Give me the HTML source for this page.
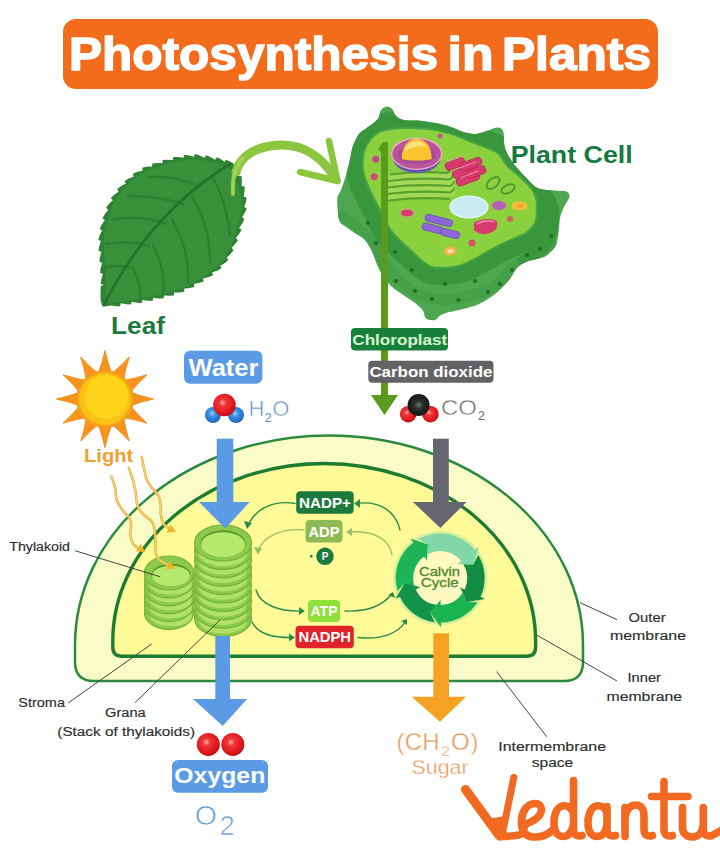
<!DOCTYPE html>
<html><head><meta charset="utf-8">
<style>
html,body{margin:0;padding:0;background:#fff;width:720px;height:857px;overflow:hidden}
svg{display:block}
text{font-family:"Liberation Sans",sans-serif}
</style></head>
<body>
<svg width="720" height="857" viewBox="0 0 720 857">
<rect width="720" height="857" fill="#fff"/>
<defs>
<radialGradient id="gRed" cx="0.42" cy="0.4" r="0.62"><stop offset="0" stop-color="#ffb0a8"/><stop offset="0.25" stop-color="#f0363a"/><stop offset="0.8" stop-color="#dc1418"/><stop offset="1" stop-color="#b80c10"/></radialGradient>
<radialGradient id="gBlue" cx="0.45" cy="0.4" r="0.62"><stop offset="0" stop-color="#8fd0ff"/><stop offset="0.35" stop-color="#3a90e0"/><stop offset="1" stop-color="#1f64b8"/></radialGradient>
<radialGradient id="gBlack" cx="0.5" cy="0.5" r="0.55"><stop offset="0" stop-color="#6a7a70"/><stop offset="0.35" stop-color="#2a2e2c"/><stop offset="1" stop-color="#141414"/></radialGradient>
</defs>


<!-- TITLE -->
<rect x="63" y="19" width="595" height="70" rx="13" fill="#f36c1c"/>
<g font-size="47" font-weight="bold" fill="#fff" stroke="#fff" stroke-width="1.5">
<text x="69" y="69.8" textLength="369" lengthAdjust="spacingAndGlyphs">Photosynthesis</text>
<text x="447.5" y="69.8" textLength="46" lengthAdjust="spacingAndGlyphs">in</text>
<text x="502" y="69.8" textLength="149" lengthAdjust="spacingAndGlyphs">Plants</text>
</g>

<!-- LEAF -->
<g id="leaf">
<path d="M103.0 306.5 L102.2 305.5 L100.9 301.5 L100.5 296.9 L100.5 296.0 L100.5 294.7 L100.6 290.5 L100.7 285.9 L103.7 285.0 L100.7 283.7 L101.3 279.5 L102.5 274.8 L103.0 273.9 L100.0 272.7 L100.6 268.5 L101.9 263.8 L102.4 262.9 L99.3 261.8 L99.9 257.5 L101.1 252.8 L101.6 251.9 L98.5 250.8 L99.2 246.6 L100.6 242.0 L101.2 241.2 L98.3 239.8 L99.5 235.7 L101.6 231.5 L102.4 230.8 L99.7 228.9 L101.5 225.1 L104.2 221.0 L105.0 220.4 L102.5 218.3 L104.6 214.5 L107.4 210.7 L108.3 210.1 L106.0 207.8 L108.4 204.4 L111.8 201.1 L112.8 200.6 L110.8 198.0 L113.8 195.0 L117.7 192.2 L118.7 191.9 L117.2 189.0 L120.5 186.4 L124.7 184.1 L125.8 183.9 L124.6 180.9 L128.2 178.7 L132.6 176.9 L133.7 176.8 L132.9 173.7 L136.8 172.0 L141.4 171.0 L142.5 171.1 L142.2 167.8 L146.3 166.8 L151.1 166.4 L152.1 166.7 L152.3 163.4 L156.5 162.9 L161.3 162.9 L162.3 163.3 L162.7 160.0 L167.0 159.7 L171.8 160.0 L172.8 160.3 L173.3 157.1 L177.6 157.0 L182.3 157.6 L183.3 158.0 L184.1 154.9 L188.3 155.2 L192.9 156.4 L193.7 157.0 L195.0 154.0 L199.1 155.2 L203.4 157.2 L204.2 157.9 L206.0 155.2 L209.9 156.8 L214.1 159.2 L214.9 160.0 L216.8 157.3 L220.6 159.1 L224.5 161.7 L226.1 159.7 L227.3 160.2 L231.1 162.0 L234.8 164.8 L235.4 165.4 L236.3 166.4 L238.6 169.9 L240.6 174.1 L238.1 176.0 L241.4 176.1 L241.9 180.3 L241.7 185.1 L241.3 186.1 L244.6 186.6 L244.6 190.9 L243.9 195.6 L243.5 196.6 L246.6 197.4 L246.1 201.6 L244.5 206.0 L243.9 206.8 L246.7 208.4 L245.1 212.3 L242.6 216.4 L241.8 217.1 L244.4 219.1 L242.5 223.0 L239.9 227.0 L239.0 227.7 L241.6 229.8 L239.4 233.5 L236.5 237.3 L235.7 237.9 L238.0 240.2 L235.5 243.6 L232.3 247.3 L231.4 247.8 L233.6 250.2 L231.0 253.6 L227.5 256.9 L226.6 257.3 L228.4 260.0 L225.3 262.8 L221.3 265.2 L220.2 265.3 L221.4 268.4 L217.7 270.5 L213.2 272.1 L212.2 272.1 L212.9 275.3 L208.9 277.0 L204.3 278.2 L203.2 278.2 L203.7 281.4 L199.7 282.8 L195.0 283.8 L194.0 283.7 L194.2 286.9 L190.1 288.0 L185.3 288.6 L184.3 288.4 L184.3 291.7 L180.1 292.4 L175.3 292.5 L174.3 292.2 L174.0 295.5 L169.7 295.8 L164.9 295.6 L163.9 295.2 L163.4 298.4 L159.1 298.5 L154.3 298.0 L153.3 297.6 L152.7 300.8 L148.4 300.8 L143.6 300.2 L142.6 299.7 L141.8 302.9 L137.6 302.7 L132.8 301.9 L131.9 301.4 L131.0 304.6 L126.7 304.2 L121.8 303.4 L120.8 303.0 L120.1 306.2 L115.8 306.2 L111.1 305.5Z" fill="#2e8432"/>
<path d="M103.0 306.5 L101.9 305.0 L101.2 303.1 L100.8 300.8 L100.5 298.2 L100.5 295.4 L100.5 292.4 L100.6 289.5 L100.7 286.7 L100.7 284.1 L100.6 281.7 L100.4 279.6 L100.3 277.6 L100.1 275.8 L100.0 274.0 L99.9 272.2 L99.8 270.4 L99.7 268.6 L99.6 266.8 L99.5 264.9 L99.4 262.8 L99.3 260.6 L99.1 258.3 L98.9 255.9 L98.7 253.4 L98.5 250.9 L98.4 248.4 L98.3 245.9 L98.2 243.5 L98.2 241.2 L98.3 239.0 L98.5 236.9 L98.7 234.9 L99.0 232.9 L99.3 231.0 L99.6 229.2 L100.1 227.3 L100.5 225.5 L101.0 223.7 L101.5 221.9 L102.0 220.0 L102.5 218.1 L103.1 216.2 L103.7 214.3 L104.3 212.4 L104.9 210.5 L105.6 208.7 L106.4 206.8 L107.2 205.0 L108.0 203.2 L108.9 201.4 L109.9 199.7 L110.9 197.9 L111.9 196.2 L113.0 194.5 L114.2 192.9 L115.4 191.2 L116.7 189.6 L118.0 188.0 L119.3 186.4 L120.7 184.9 L122.1 183.4 L123.6 181.8 L125.2 180.3 L126.7 178.8 L128.4 177.4 L130.0 175.9 L131.7 174.5 L133.5 173.2 L135.3 171.9 L137.2 170.7 L139.1 169.6 L141.0 168.5 L142.9 167.5 L144.9 166.5 L147.0 165.6 L149.1 164.7 L151.3 163.8 L153.6 163.0 L156.0 162.1 L158.5 161.3 L161.2 160.5 L164.2 159.6 L167.2 158.7 L170.4 157.8 L173.7 157.0 L177.0 156.3 L180.2 155.6 L183.4 155.0 L186.4 154.5 L189.2 154.2 L191.9 154.0 L194.4 154.0 L196.9 154.1 L199.4 154.3 L201.7 154.5 L204.0 154.9 L206.3 155.2 L208.5 155.7 L210.7 156.1 L212.8 156.5 L214.9 156.9 L217.0 157.3 L219.1 157.8 L221.2 158.3 L223.1 158.8 L225.0 159.4 L226.9 160.0 L228.6 160.7 L230.2 161.5 L231.7 162.4 L233.0 163.4 L234.2 164.3 L235.3 165.4 L236.3 166.5 L237.2 167.6 L238.0 168.9 L238.8 170.3 L239.6 171.9 L240.3 173.5 L241.1 175.4 L241.9 177.5 L242.7 179.8 L243.4 182.4 L244.2 185.1 L244.9 187.9 L245.5 190.7 L246.0 193.5 L246.5 196.3 L246.8 198.9 L247.0 201.4 L247.0 203.7 L247.0 205.9 L246.8 208.1 L246.4 210.2 L246.1 212.3 L245.6 214.3 L245.1 216.4 L244.6 218.4 L244.0 220.5 L243.5 222.6 L243.0 224.7 L242.4 226.9 L241.8 229.0 L241.1 231.1 L240.5 233.2 L239.8 235.4 L239.0 237.5 L238.2 239.6 L237.3 241.8 L236.4 243.9 L235.5 246.0 L234.5 248.2 L233.5 250.4 L232.5 252.6 L231.4 254.8 L230.2 257.0 L229.0 259.1 L227.6 261.2 L226.2 263.2 L224.6 265.1 L222.9 267.0 L221.0 268.8 L219.0 270.6 L216.9 272.3 L214.7 274.0 L212.4 275.6 L210.2 277.2 L207.9 278.8 L205.6 280.3 L203.3 281.7 L201.0 283.1 L198.8 284.4 L196.5 285.7 L194.1 287.0 L191.8 288.2 L189.4 289.3 L187.0 290.5 L184.6 291.5 L182.2 292.5 L179.7 293.5 L177.2 294.4 L174.7 295.3 L172.2 296.1 L169.6 296.8 L167.0 297.5 L164.4 298.2 L161.8 298.8 L159.1 299.4 L156.5 300.0 L153.8 300.6 L151.0 301.2 L148.1 301.7 L145.2 302.3 L142.3 302.8 L139.4 303.3 L136.4 303.8 L133.5 304.2 L130.7 304.6 L128.0 305.0 L125.4 305.3 L122.8 305.7 L120.2 306.2 L117.6 306.7 L115.1 307.3 L112.6 307.7 L110.2 308.1 L108.1 308.2 L106.1 308.0 L104.4 307.4Z" fill="#38913a" transform="translate(175 230) scale(0.93) translate(-175 -230)"/>
<g fill="none" stroke="#2d7f30" stroke-width="2.4" stroke-linecap="round">
<path d="M200 187 Q175 175 150 177"/>
<path d="M183 204 Q160 196 128 196"/>
<path d="M166 224 Q140 214 112 220"/>
<path d="M149 246 Q130 240 106 244"/>
<path d="M133 268 Q118 264 103 268"/>
<path d="M212 176 Q226 200 230 235"/>
<path d="M192 197 Q210 225 210 262"/>
<path d="M172 220 Q190 250 188 283"/>
<path d="M153 245 Q166 270 163 296"/>
<path d="M134 270 Q142 285 140 302"/>
</g>
<path d="M104 305 Q150 213 230 164" fill="none" stroke="#26722b" stroke-width="2.8" stroke-linecap="round"/>
</g>
<!-- leaf to cell arrow -->
<g fill="none" stroke-linecap="round">
<path d="M236 172 C240 156 256 146 280 145 C306 144 324 160 335 178" stroke="#8cc63f" stroke-width="9"/>
<path d="M233 194 C232 182 233 176 236 170" stroke="#8cc63f" stroke-width="4"/>
<path d="M233 194 C232 178 236 166 243 158" stroke="#9fd35c" stroke-width="3"/>
<path d="M337.5 181 L329 141" stroke="#8cc63f" stroke-width="6.5"/>
<path d="M337.5 181 L300 172" stroke="#8cc63f" stroke-width="6.5"/>
</g>

<!-- CELL -->
<g id="cell">
<defs><clipPath id="cellclip"><path d="M388.3 106.7 L389.0 106.9 L389.7 107.2 L390.5 107.6 L391.2 108.2 L391.8 108.8 L392.5 109.5 L393.1 110.4 L393.6 111.5 L394.0 112.7 L394.5 113.9 L395.2 115.0 L396.0 116.0 L397.0 116.8 L398.0 117.6 L399.2 118.4 L400.6 119.0 L402.2 119.5 L404.0 120.0 L406.1 120.3 L408.5 120.4 L411.1 120.4 L413.9 120.4 L416.9 120.5 L420.0 120.8 L423.4 121.2 L427.3 121.8 L431.3 122.4 L435.3 123.1 L438.9 123.8 L442.0 124.4 L444.5 125.0 L446.5 125.5 L448.2 126.1 L449.7 126.6 L451.3 127.2 L453.0 127.8 L454.8 128.5 L456.6 129.3 L458.5 130.1 L460.3 130.9 L462.1 131.6 L464.0 132.2 L465.9 132.7 L467.8 133.1 L469.8 133.5 L471.7 133.8 L473.7 133.9 L475.6 133.9 L477.5 133.7 L479.4 133.3 L481.3 132.8 L483.2 132.2 L485.0 131.6 L486.7 131.1 L488.4 130.5 L490.0 129.9 L491.5 129.2 L493.0 128.6 L494.3 128.1 L495.6 127.8 L496.7 127.6 L497.8 127.6 L498.7 127.7 L499.5 127.8 L500.3 128.1 L501.0 128.5 L501.6 128.9 L502.1 129.3 L502.6 129.8 L502.9 130.6 L503.3 131.6 L503.6 133.0 L503.8 134.9 L503.9 137.3 L503.9 140.0 L504.1 142.8 L504.4 145.6 L505.0 148.3 L505.9 150.8 L507.1 153.3 L508.4 155.8 L509.9 158.3 L511.5 160.8 L513.3 163.3 L515.3 165.9 L517.5 168.5 L519.8 171.1 L522.2 173.7 L524.5 176.1 L526.7 178.3 L528.7 180.4 L530.5 182.4 L532.3 184.2 L534.1 185.9 L536.1 187.3 L538.3 188.5 L540.9 189.3 L543.7 189.8 L546.7 190.1 L549.7 190.2 L552.5 190.3 L555.0 190.5 L557.2 190.7 L559.4 190.8 L561.3 190.8 L563.1 190.9 L564.7 191.1 L566.0 191.5 L567.1 192.1 L568.1 192.7 L568.8 193.5 L569.3 194.4 L569.5 195.5 L569.5 196.7 L569.1 198.1 L568.3 199.7 L567.2 201.5 L566.1 203.3 L564.9 205.2 L564.0 207.0 L563.2 208.8 L562.5 210.5 L561.8 212.3 L561.1 214.1 L560.5 216.1 L560.0 218.3 L559.6 220.8 L559.3 223.7 L559.1 226.7 L558.9 229.7 L558.6 232.5 L558.3 235.0 L557.9 237.2 L557.6 239.2 L557.2 241.1 L556.7 242.8 L556.2 244.4 L555.5 246.0 L554.6 247.5 L553.6 248.9 L552.5 250.2 L551.3 251.4 L550.1 252.5 L549.0 253.5 L548.1 254.4 L547.3 255.1 L546.5 255.7 L545.6 256.3 L544.4 256.9 L542.8 257.5 L540.7 258.1 L538.1 258.7 L535.2 259.3 L532.3 259.9 L529.6 260.6 L527.2 261.4 L525.2 262.3 L523.3 263.2 L521.7 264.1 L520.1 265.2 L518.5 266.5 L517.0 268.0 L515.5 269.8 L514.2 271.8 L513.0 274.0 L511.6 276.3 L510.2 278.6 L508.5 280.8 L506.6 283.0 L504.5 285.3 L502.2 287.6 L499.9 289.8 L497.5 292.0 L495.0 294.0 L492.5 295.9 L489.9 297.8 L487.2 299.6 L484.4 301.2 L481.5 302.8 L478.6 304.2 L475.5 305.5 L472.1 306.6 L468.6 307.6 L465.2 308.5 L462.0 309.3 L459.2 310.0 L456.8 310.6 L454.6 311.1 L452.6 311.4 L450.8 311.8 L449.1 312.1 L447.5 312.5 L446.0 313.0 L444.6 313.4 L443.3 313.9 L442.2 314.4 L441.1 314.9 L440.0 315.5 L439.1 316.2 L438.3 317.1 L437.6 318.0 L436.9 318.9 L436.0 319.6 L435.0 320.0 L433.7 320.2 L432.1 320.2 L430.4 320.1 L428.7 319.7 L427.2 319.2 L426.0 318.5 L425.2 317.5 L424.7 316.2 L424.3 314.7 L423.9 313.1 L423.4 311.5 L422.5 310.0 L421.2 308.5 L419.7 307.1 L418.0 305.6 L416.2 304.1 L414.3 302.6 L412.5 301.2 L410.7 300.0 L408.9 298.8 L407.0 297.6 L405.1 296.4 L403.2 295.1 L401.2 293.8 L399.2 292.3 L397.1 290.8 L394.9 289.2 L392.8 287.5 L390.7 285.7 L388.8 283.8 L386.9 281.6 L385.1 279.2 L383.4 276.6 L381.7 274.0 L380.2 271.4 L378.8 268.8 L377.5 266.1 L376.4 263.3 L375.5 260.5 L374.5 257.7 L373.6 255.0 L372.5 252.5 L371.4 250.1 L370.2 247.9 L369.0 245.7 L367.7 243.6 L366.4 241.7 L365.0 240.0 L363.5 238.5 L361.8 237.2 L360.0 236.0 L358.2 235.0 L356.6 234.0 L355.0 233.0 L353.6 232.0 L352.3 231.2 L351.1 230.4 L349.9 229.6 L348.7 228.7 L347.4 227.8 L346.0 226.8 L344.6 225.9 L343.1 225.0 L341.7 223.9 L340.5 222.6 L339.5 221.0 L338.8 219.0 L338.3 216.7 L338.0 214.2 L337.8 211.6 L337.6 209.2 L337.5 207.0 L337.3 205.1 L337.2 203.3 L337.2 201.6 L337.2 200.0 L337.3 198.4 L337.5 197.0 L337.9 195.7 L338.4 194.6 L339.0 193.6 L339.7 192.6 L340.3 191.4 L341.0 190.0 L341.6 188.3 L342.3 186.4 L343.0 184.4 L343.7 182.4 L344.4 180.3 L345.0 178.3 L345.6 176.4 L346.2 174.4 L346.7 172.5 L347.3 170.6 L347.8 168.6 L348.3 166.7 L348.8 164.7 L349.2 162.7 L349.6 160.8 L350.0 158.8 L350.4 156.9 L350.8 155.0 L351.2 153.2 L351.5 151.6 L351.8 150.0 L352.2 148.3 L352.7 146.7 L353.3 145.0 L354.0 143.2 L354.9 141.2 L355.9 139.2 L356.9 137.3 L357.9 135.5 L359.0 134.0 L360.1 132.8 L361.2 131.8 L362.4 130.9 L363.6 130.1 L364.8 129.4 L366.0 128.5 L367.2 127.6 L368.6 126.6 L369.9 125.7 L371.2 124.8 L372.4 123.9 L373.5 123.0 L374.5 122.2 L375.5 121.4 L376.3 120.6 L377.1 119.8 L377.9 118.9 L378.5 118.0 L379.0 116.9 L379.3 115.7 L379.6 114.4 L379.8 113.1 L380.1 112.0 L380.5 111.0 L381.0 110.2 L381.5 109.5 L382.1 108.9 L382.7 108.3 L383.4 107.9 L384.0 107.5 L384.7 107.2 L385.4 106.9 L386.1 106.7 L386.8 106.6 L387.6 106.6Z"/></clipPath></defs>
<path d="M388.3 106.7 L389.0 106.9 L389.7 107.2 L390.5 107.6 L391.2 108.2 L391.8 108.8 L392.5 109.5 L393.1 110.4 L393.6 111.5 L394.0 112.7 L394.5 113.9 L395.2 115.0 L396.0 116.0 L397.0 116.8 L398.0 117.6 L399.2 118.4 L400.6 119.0 L402.2 119.5 L404.0 120.0 L406.1 120.3 L408.5 120.4 L411.1 120.4 L413.9 120.4 L416.9 120.5 L420.0 120.8 L423.4 121.2 L427.3 121.8 L431.3 122.4 L435.3 123.1 L438.9 123.8 L442.0 124.4 L444.5 125.0 L446.5 125.5 L448.2 126.1 L449.7 126.6 L451.3 127.2 L453.0 127.8 L454.8 128.5 L456.6 129.3 L458.5 130.1 L460.3 130.9 L462.1 131.6 L464.0 132.2 L465.9 132.7 L467.8 133.1 L469.8 133.5 L471.7 133.8 L473.7 133.9 L475.6 133.9 L477.5 133.7 L479.4 133.3 L481.3 132.8 L483.2 132.2 L485.0 131.6 L486.7 131.1 L488.4 130.5 L490.0 129.9 L491.5 129.2 L493.0 128.6 L494.3 128.1 L495.6 127.8 L496.7 127.6 L497.8 127.6 L498.7 127.7 L499.5 127.8 L500.3 128.1 L501.0 128.5 L501.6 128.9 L502.1 129.3 L502.6 129.8 L502.9 130.6 L503.3 131.6 L503.6 133.0 L503.8 134.9 L503.9 137.3 L503.9 140.0 L504.1 142.8 L504.4 145.6 L505.0 148.3 L505.9 150.8 L507.1 153.3 L508.4 155.8 L509.9 158.3 L511.5 160.8 L513.3 163.3 L515.3 165.9 L517.5 168.5 L519.8 171.1 L522.2 173.7 L524.5 176.1 L526.7 178.3 L528.7 180.4 L530.5 182.4 L532.3 184.2 L534.1 185.9 L536.1 187.3 L538.3 188.5 L540.9 189.3 L543.7 189.8 L546.7 190.1 L549.7 190.2 L552.5 190.3 L555.0 190.5 L557.2 190.7 L559.4 190.8 L561.3 190.8 L563.1 190.9 L564.7 191.1 L566.0 191.5 L567.1 192.1 L568.1 192.7 L568.8 193.5 L569.3 194.4 L569.5 195.5 L569.5 196.7 L569.1 198.1 L568.3 199.7 L567.2 201.5 L566.1 203.3 L564.9 205.2 L564.0 207.0 L563.2 208.8 L562.5 210.5 L561.8 212.3 L561.1 214.1 L560.5 216.1 L560.0 218.3 L559.6 220.8 L559.3 223.7 L559.1 226.7 L558.9 229.7 L558.6 232.5 L558.3 235.0 L557.9 237.2 L557.6 239.2 L557.2 241.1 L556.7 242.8 L556.2 244.4 L555.5 246.0 L554.6 247.5 L553.6 248.9 L552.5 250.2 L551.3 251.4 L550.1 252.5 L549.0 253.5 L548.1 254.4 L547.3 255.1 L546.5 255.7 L545.6 256.3 L544.4 256.9 L542.8 257.5 L540.7 258.1 L538.1 258.7 L535.2 259.3 L532.3 259.9 L529.6 260.6 L527.2 261.4 L525.2 262.3 L523.3 263.2 L521.7 264.1 L520.1 265.2 L518.5 266.5 L517.0 268.0 L515.5 269.8 L514.2 271.8 L513.0 274.0 L511.6 276.3 L510.2 278.6 L508.5 280.8 L506.6 283.0 L504.5 285.3 L502.2 287.6 L499.9 289.8 L497.5 292.0 L495.0 294.0 L492.5 295.9 L489.9 297.8 L487.2 299.6 L484.4 301.2 L481.5 302.8 L478.6 304.2 L475.5 305.5 L472.1 306.6 L468.6 307.6 L465.2 308.5 L462.0 309.3 L459.2 310.0 L456.8 310.6 L454.6 311.1 L452.6 311.4 L450.8 311.8 L449.1 312.1 L447.5 312.5 L446.0 313.0 L444.6 313.4 L443.3 313.9 L442.2 314.4 L441.1 314.9 L440.0 315.5 L439.1 316.2 L438.3 317.1 L437.6 318.0 L436.9 318.9 L436.0 319.6 L435.0 320.0 L433.7 320.2 L432.1 320.2 L430.4 320.1 L428.7 319.7 L427.2 319.2 L426.0 318.5 L425.2 317.5 L424.7 316.2 L424.3 314.7 L423.9 313.1 L423.4 311.5 L422.5 310.0 L421.2 308.5 L419.7 307.1 L418.0 305.6 L416.2 304.1 L414.3 302.6 L412.5 301.2 L410.7 300.0 L408.9 298.8 L407.0 297.6 L405.1 296.4 L403.2 295.1 L401.2 293.8 L399.2 292.3 L397.1 290.8 L394.9 289.2 L392.8 287.5 L390.7 285.7 L388.8 283.8 L386.9 281.6 L385.1 279.2 L383.4 276.6 L381.7 274.0 L380.2 271.4 L378.8 268.8 L377.5 266.1 L376.4 263.3 L375.5 260.5 L374.5 257.7 L373.6 255.0 L372.5 252.5 L371.4 250.1 L370.2 247.9 L369.0 245.7 L367.7 243.6 L366.4 241.7 L365.0 240.0 L363.5 238.5 L361.8 237.2 L360.0 236.0 L358.2 235.0 L356.6 234.0 L355.0 233.0 L353.6 232.0 L352.3 231.2 L351.1 230.4 L349.9 229.6 L348.7 228.7 L347.4 227.8 L346.0 226.8 L344.6 225.9 L343.1 225.0 L341.7 223.9 L340.5 222.6 L339.5 221.0 L338.8 219.0 L338.3 216.7 L338.0 214.2 L337.8 211.6 L337.6 209.2 L337.5 207.0 L337.3 205.1 L337.2 203.3 L337.2 201.6 L337.2 200.0 L337.3 198.4 L337.5 197.0 L337.9 195.7 L338.4 194.6 L339.0 193.6 L339.7 192.6 L340.3 191.4 L341.0 190.0 L341.6 188.3 L342.3 186.4 L343.0 184.4 L343.7 182.4 L344.4 180.3 L345.0 178.3 L345.6 176.4 L346.2 174.4 L346.7 172.5 L347.3 170.6 L347.8 168.6 L348.3 166.7 L348.8 164.7 L349.2 162.7 L349.6 160.8 L350.0 158.8 L350.4 156.9 L350.8 155.0 L351.2 153.2 L351.5 151.6 L351.8 150.0 L352.2 148.3 L352.7 146.7 L353.3 145.0 L354.0 143.2 L354.9 141.2 L355.9 139.2 L356.9 137.3 L357.9 135.5 L359.0 134.0 L360.1 132.8 L361.2 131.8 L362.4 130.9 L363.6 130.1 L364.8 129.4 L366.0 128.5 L367.2 127.6 L368.6 126.6 L369.9 125.7 L371.2 124.8 L372.4 123.9 L373.5 123.0 L374.5 122.2 L375.5 121.4 L376.3 120.6 L377.1 119.8 L377.9 118.9 L378.5 118.0 L379.0 116.9 L379.3 115.7 L379.6 114.4 L379.8 113.1 L380.1 112.0 L380.5 111.0 L381.0 110.2 L381.5 109.5 L382.1 108.9 L382.7 108.3 L383.4 107.9 L384.0 107.5 L384.7 107.2 L385.4 106.9 L386.1 106.7 L386.8 106.6 L387.6 106.6Z" fill="#4ea651"/>
<g clip-path="url(#cellclip)">
<path d="M336 214 C346 219 356 226 366 236 C376 248 384 264 394 276 C404 288 418 296 436 299 C455 301 475 296 492 288 C504 280 510 270 520 262 C530 256 545 252 556 240" fill="none" stroke="#46a049" stroke-width="11"/>
<path d="M365.0 152.0 L365.8 149.5 L366.7 147.1 L367.9 144.8 L369.1 142.7 L370.5 140.8 L372.0 139.0 L373.5 137.4 L375.1 136.0 L376.8 134.7 L378.6 133.6 L380.7 132.6 L383.0 131.7 L385.7 130.9 L388.7 130.3 L391.9 129.9 L395.2 129.5 L398.5 129.2 L401.7 129.0 L404.8 128.9 L407.9 128.9 L411.0 128.9 L414.0 129.1 L417.0 129.2 L420.0 129.4 L422.9 129.6 L425.7 129.8 L428.5 130.0 L431.2 130.3 L433.9 130.6 L436.7 131.1 L439.5 131.7 L442.4 132.4 L445.3 133.2 L448.2 134.0 L450.9 134.8 L453.3 135.6 L455.5 136.3 L457.4 137.1 L459.2 137.8 L460.9 138.5 L462.6 139.3 L464.4 140.0 L466.3 140.7 L468.1 141.5 L470.0 142.2 L471.9 142.9 L473.7 143.7 L475.6 144.4 L477.5 145.1 L479.3 145.9 L481.2 146.6 L483.0 147.3 L484.9 148.1 L486.7 148.9 L488.6 149.7 L490.5 150.4 L492.4 151.2 L494.3 152.0 L496.1 153.1 L497.8 154.4 L499.4 156.1 L500.8 158.1 L502.2 160.3 L503.6 162.5 L505.1 164.7 L506.7 166.7 L508.5 168.5 L510.4 170.1 L512.3 171.7 L514.3 173.3 L516.3 175.0 L518.3 176.7 L520.3 178.6 L522.4 180.5 L524.6 182.5 L526.6 184.5 L528.4 186.4 L530.0 188.3 L531.3 190.1 L532.3 191.8 L533.2 193.4 L533.9 195.0 L534.5 196.7 L535.0 198.3 L535.4 199.9 L535.6 201.5 L535.8 203.1 L535.8 204.8 L535.8 206.5 L535.8 208.3 L535.8 210.3 L535.8 212.4 L535.8 214.7 L535.6 216.9 L535.3 219.0 L534.7 221.0 L533.8 222.9 L532.8 224.7 L531.5 226.4 L530.1 228.1 L528.6 229.6 L527.0 231.0 L525.3 232.2 L523.5 233.3 L521.5 234.2 L519.5 235.1 L517.4 236.0 L515.3 237.0 L513.1 238.0 L510.9 239.0 L508.6 239.9 L506.3 240.9 L504.0 241.9 L501.7 243.0 L499.4 244.1 L497.1 245.3 L494.8 246.5 L492.6 247.8 L490.3 249.0 L488.0 250.3 L485.7 251.6 L483.5 252.9 L481.3 254.2 L479.1 255.5 L476.8 256.8 L474.4 258.0 L472.0 259.3 L469.5 260.5 L467.0 261.8 L464.4 263.0 L461.7 264.0 L458.9 264.9 L455.8 265.6 L452.4 266.1 L448.9 266.5 L445.5 266.7 L442.2 266.8 L439.4 266.8 L437.1 266.8 L435.2 266.7 L433.6 266.5 L432.0 266.1 L430.1 265.3 L427.8 263.9 L425.0 261.9 L421.8 259.2 L418.4 256.2 L414.9 252.9 L411.5 249.7 L408.3 246.7 L405.3 243.9 L402.4 241.3 L399.5 238.6 L396.8 235.9 L394.1 233.1 L391.7 230.0 L389.4 226.6 L387.4 223.0 L385.4 219.2 L383.6 215.4 L381.8 211.6 L380.0 208.0 L378.2 204.5 L376.4 201.1 L374.6 197.8 L373.0 194.4 L371.4 191.2 L370.0 188.0 L368.7 184.9 L367.4 181.9 L366.3 178.9 L365.3 175.9 L364.5 173.0 L364.0 170.0 L363.7 166.9 L363.6 163.8 L363.7 160.7 L364.0 157.6 L364.4 154.7Z" fill="#38973d" stroke="#38973d" stroke-width="36" stroke-linejoin="round"/>
<path d="M365.0 152.0 L365.8 149.5 L366.7 147.1 L367.9 144.8 L369.1 142.7 L370.5 140.8 L372.0 139.0 L373.5 137.4 L375.1 136.0 L376.8 134.7 L378.6 133.6 L380.7 132.6 L383.0 131.7 L385.7 130.9 L388.7 130.3 L391.9 129.9 L395.2 129.5 L398.5 129.2 L401.7 129.0 L404.8 128.9 L407.9 128.9 L411.0 128.9 L414.0 129.1 L417.0 129.2 L420.0 129.4 L422.9 129.6 L425.7 129.8 L428.5 130.0 L431.2 130.3 L433.9 130.6 L436.7 131.1 L439.5 131.7 L442.4 132.4 L445.3 133.2 L448.2 134.0 L450.9 134.8 L453.3 135.6 L455.5 136.3 L457.4 137.1 L459.2 137.8 L460.9 138.5 L462.6 139.3 L464.4 140.0 L466.3 140.7 L468.1 141.5 L470.0 142.2 L471.9 142.9 L473.7 143.7 L475.6 144.4 L477.5 145.1 L479.3 145.9 L481.2 146.6 L483.0 147.3 L484.9 148.1 L486.7 148.9 L488.6 149.7 L490.5 150.4 L492.4 151.2 L494.3 152.0 L496.1 153.1 L497.8 154.4 L499.4 156.1 L500.8 158.1 L502.2 160.3 L503.6 162.5 L505.1 164.7 L506.7 166.7 L508.5 168.5 L510.4 170.1 L512.3 171.7 L514.3 173.3 L516.3 175.0 L518.3 176.7 L520.3 178.6 L522.4 180.5 L524.6 182.5 L526.6 184.5 L528.4 186.4 L530.0 188.3 L531.3 190.1 L532.3 191.8 L533.2 193.4 L533.9 195.0 L534.5 196.7 L535.0 198.3 L535.4 199.9 L535.6 201.5 L535.8 203.1 L535.8 204.8 L535.8 206.5 L535.8 208.3 L535.8 210.3 L535.8 212.4 L535.8 214.7 L535.6 216.9 L535.3 219.0 L534.7 221.0 L533.8 222.9 L532.8 224.7 L531.5 226.4 L530.1 228.1 L528.6 229.6 L527.0 231.0 L525.3 232.2 L523.5 233.3 L521.5 234.2 L519.5 235.1 L517.4 236.0 L515.3 237.0 L513.1 238.0 L510.9 239.0 L508.6 239.9 L506.3 240.9 L504.0 241.9 L501.7 243.0 L499.4 244.1 L497.1 245.3 L494.8 246.5 L492.6 247.8 L490.3 249.0 L488.0 250.3 L485.7 251.6 L483.5 252.9 L481.3 254.2 L479.1 255.5 L476.8 256.8 L474.4 258.0 L472.0 259.3 L469.5 260.5 L467.0 261.8 L464.4 263.0 L461.7 264.0 L458.9 264.9 L455.8 265.6 L452.4 266.1 L448.9 266.5 L445.5 266.7 L442.2 266.8 L439.4 266.8 L437.1 266.8 L435.2 266.7 L433.6 266.5 L432.0 266.1 L430.1 265.3 L427.8 263.9 L425.0 261.9 L421.8 259.2 L418.4 256.2 L414.9 252.9 L411.5 249.7 L408.3 246.7 L405.3 243.9 L402.4 241.3 L399.5 238.6 L396.8 235.9 L394.1 233.1 L391.7 230.0 L389.4 226.6 L387.4 223.0 L385.4 219.2 L383.6 215.4 L381.8 211.6 L380.0 208.0 L378.2 204.5 L376.4 201.1 L374.6 197.8 L373.0 194.4 L371.4 191.2 L370.0 188.0 L368.7 184.9 L367.4 181.9 L366.3 178.9 L365.3 175.9 L364.5 173.0 L364.0 170.0 L363.7 166.9 L363.6 163.8 L363.7 160.7 L364.0 157.6 L364.4 154.7Z" fill="none" stroke="#45a245" stroke-width="4" stroke-linejoin="round"/>
<path d="M540 190 C552 196 556 212 552 230 C548 244 538 254 525 260" fill="none" stroke="#38973d" stroke-width="12" stroke-linecap="round"/>
</g>
<path d="M365.0 152.0 L365.8 149.5 L366.7 147.1 L367.9 144.8 L369.1 142.7 L370.5 140.8 L372.0 139.0 L373.5 137.4 L375.1 136.0 L376.8 134.7 L378.6 133.6 L380.7 132.6 L383.0 131.7 L385.7 130.9 L388.7 130.3 L391.9 129.9 L395.2 129.5 L398.5 129.2 L401.7 129.0 L404.8 128.9 L407.9 128.9 L411.0 128.9 L414.0 129.1 L417.0 129.2 L420.0 129.4 L422.9 129.6 L425.7 129.8 L428.5 130.0 L431.2 130.3 L433.9 130.6 L436.7 131.1 L439.5 131.7 L442.4 132.4 L445.3 133.2 L448.2 134.0 L450.9 134.8 L453.3 135.6 L455.5 136.3 L457.4 137.1 L459.2 137.8 L460.9 138.5 L462.6 139.3 L464.4 140.0 L466.3 140.7 L468.1 141.5 L470.0 142.2 L471.9 142.9 L473.7 143.7 L475.6 144.4 L477.5 145.1 L479.3 145.9 L481.2 146.6 L483.0 147.3 L484.9 148.1 L486.7 148.9 L488.6 149.7 L490.5 150.4 L492.4 151.2 L494.3 152.0 L496.1 153.1 L497.8 154.4 L499.4 156.1 L500.8 158.1 L502.2 160.3 L503.6 162.5 L505.1 164.7 L506.7 166.7 L508.5 168.5 L510.4 170.1 L512.3 171.7 L514.3 173.3 L516.3 175.0 L518.3 176.7 L520.3 178.6 L522.4 180.5 L524.6 182.5 L526.6 184.5 L528.4 186.4 L530.0 188.3 L531.3 190.1 L532.3 191.8 L533.2 193.4 L533.9 195.0 L534.5 196.7 L535.0 198.3 L535.4 199.9 L535.6 201.5 L535.8 203.1 L535.8 204.8 L535.8 206.5 L535.8 208.3 L535.8 210.3 L535.8 212.4 L535.8 214.7 L535.6 216.9 L535.3 219.0 L534.7 221.0 L533.8 222.9 L532.8 224.7 L531.5 226.4 L530.1 228.1 L528.6 229.6 L527.0 231.0 L525.3 232.2 L523.5 233.3 L521.5 234.2 L519.5 235.1 L517.4 236.0 L515.3 237.0 L513.1 238.0 L510.9 239.0 L508.6 239.9 L506.3 240.9 L504.0 241.9 L501.7 243.0 L499.4 244.1 L497.1 245.3 L494.8 246.5 L492.6 247.8 L490.3 249.0 L488.0 250.3 L485.7 251.6 L483.5 252.9 L481.3 254.2 L479.1 255.5 L476.8 256.8 L474.4 258.0 L472.0 259.3 L469.5 260.5 L467.0 261.8 L464.4 263.0 L461.7 264.0 L458.9 264.9 L455.8 265.6 L452.4 266.1 L448.9 266.5 L445.5 266.7 L442.2 266.8 L439.4 266.8 L437.1 266.8 L435.2 266.7 L433.6 266.5 L432.0 266.1 L430.1 265.3 L427.8 263.9 L425.0 261.9 L421.8 259.2 L418.4 256.2 L414.9 252.9 L411.5 249.7 L408.3 246.7 L405.3 243.9 L402.4 241.3 L399.5 238.6 L396.8 235.9 L394.1 233.1 L391.7 230.0 L389.4 226.6 L387.4 223.0 L385.4 219.2 L383.6 215.4 L381.8 211.6 L380.0 208.0 L378.2 204.5 L376.4 201.1 L374.6 197.8 L373.0 194.4 L371.4 191.2 L370.0 188.0 L368.7 184.9 L367.4 181.9 L366.3 178.9 L365.3 175.9 L364.5 173.0 L364.0 170.0 L363.7 166.9 L363.6 163.8 L363.7 160.7 L364.0 157.6 L364.4 154.7Z" fill="#8bd13e"/>
<!-- dots on side -->
<g fill="#1f6e24" clip-path="url(#cellclip)">
<circle cx="368.0" cy="223.0" r="2.1"/><circle cx="376.0" cy="243.0" r="2.1"/><circle cx="395.0" cy="252.0" r="2.1"/><circle cx="411.7" cy="270.0" r="2.1"/><circle cx="396.0" cy="281.0" r="2.1"/><circle cx="415.0" cy="291.0" r="2.1"/><circle cx="445.0" cy="284.0" r="2.1"/><circle cx="475.0" cy="281.0" r="2.1"/><circle cx="458.3" cy="300.0" r="2.1"/><circle cx="500.0" cy="284.0" r="2.1"/><circle cx="512.0" cy="270.0" r="2.1"/><circle cx="540.0" cy="249.0" r="2.1"/><circle cx="551.0" cy="236.0" r="2.1"/><circle cx="432.0" cy="299.0" r="2.1"/><circle cx="488.0" cy="292.0" r="2.1"/><circle cx="527.0" cy="255.0" r="2.1"/>
</g>
<!-- ER stripes -->
<path d="M389 174 Q420 169 450 172 L455 168 L455 196 Q420 197 388 201 Z" fill="#a2da55"/>
<g fill="none" stroke="#5aa030" stroke-width="2.2" stroke-linecap="round">
<path d="M391 174.5 Q418 170.5 447 173 Q450 172 451 169"/>
<path d="M388 181 Q420 177 449 179.5 Q452 178.5 453 175.5"/>
<path d="M387 187.5 Q420 183.5 450 186 Q453 185 454 182"/>
<path d="M387 194 Q420 190 450 192.5 Q453 191.5 454 188.5"/>
<path d="M389 200.5 Q420 196.5 449 199"/>
</g>
<!-- nucleus -->
<ellipse cx="416.7" cy="157.5" rx="24" ry="15.5" fill="#6656b0"/>
<ellipse cx="416.7" cy="153.8" rx="25" ry="15.5" fill="#b9559c" stroke="#f2b0c8" stroke-width="1.3"/>
<ellipse cx="416.7" cy="154.5" rx="19" ry="9.5" fill="#a64a92"/>
<path d="M401.7 159 C401.7 146 408 139 416.7 139 C425.4 139 431.7 146 431.7 159 C425 161 408 161 401.7 159 Z" fill="#f8c531"/>
<path d="M405 152 C406 145 410 141.5 416.7 141.5 C421 141.5 425 143.5 427 147 C420 145 410 147 405 152 Z" fill="#fbe27a"/>
<!-- red stacks -->
<g fill="#d83a6b" stroke="#b82a58" stroke-width="0.8">
<rect x="445" y="160" width="20" height="8" rx="3" transform="rotate(-20 455 164)"/>
<rect x="452" y="167" width="26" height="8" rx="3" transform="rotate(-20 465 171)"/>
<rect x="460" y="160" width="22" height="8" rx="3" transform="rotate(-20 471 164)"/>
<rect x="456" y="175" width="24" height="8" rx="3" transform="rotate(-20 468 179)"/>
<rect x="466" y="168" width="20" height="8" rx="3" transform="rotate(-20 476 172)"/>
</g>
<g fill="none" stroke="#f28fb0" stroke-width="1"><path d="M447 162 L463 156"/><path d="M454 170 L476 162"/><path d="M460 178 L478 171"/></g>
<!-- green ovals -->
<ellipse cx="493" cy="183" rx="7.5" ry="4.5" fill="#8dcf42" stroke="#4f9c2e" stroke-width="2" transform="rotate(-40 493 183)"/>
<ellipse cx="508" cy="189" rx="7" ry="4" fill="#8dcf42" stroke="#4f9c2e" stroke-width="2" transform="rotate(-25 508 189)"/>
<!-- vacuole -->
<ellipse cx="469" cy="207" rx="19" ry="10.8" fill="#c8ecf2" stroke="#e6f9fb" stroke-width="1.2"/>
<!-- golgi purple -->
<g fill="#8e68d6" stroke="#6f4fc0" stroke-width="0.8" transform="translate(0 4)">
<rect x="425" y="213" width="28" height="7" rx="3" transform="rotate(14 439 216)"/>
<rect x="422" y="221" width="22" height="7" rx="3" transform="rotate(14 433 224)"/>
<rect x="441" y="226" width="19" height="7" rx="3" transform="rotate(14 450 229)"/>
</g>
<!-- mitochondria -->
<path d="M474 223 Q486 216 497 221 Q499 230 490 233 Q480 236 474 230 Z" fill="#d83a6b"/>
<path d="M477 224 Q486 219 494 222" fill="none" stroke="#f6a0c0" stroke-width="1.2"/>
<ellipse cx="407" cy="213" rx="6.5" ry="3.8" fill="#d83a6b" stroke="#f08aa8" stroke-width="0.8"/>
<ellipse cx="499" cy="205.5" rx="7" ry="4.5" fill="#b760b8"/>
<ellipse cx="519.5" cy="206" rx="8" ry="4.5" fill="#f5c037"/>
<ellipse cx="519.5" cy="206" rx="4" ry="1.8" fill="#f7a030"/>
<circle cx="510" cy="219" r="3" fill="#c8685a"/>
<circle cx="472" cy="243" r="3.5" fill="#d85068"/>
<ellipse cx="450.3" cy="251" rx="6.5" ry="4.5" fill="#f5b050"/>
<ellipse cx="450.3" cy="251" rx="3.5" ry="2" fill="#fde0a0"/>
<circle cx="375.8" cy="159.2" r="3.5" fill="#c04a8a"/>
<circle cx="374.2" cy="176.7" r="3.5" fill="#d04a70"/>
<circle cx="440" cy="136" r="2.5" fill="#c05a8a"/>
</g>

<!-- LABELS top -->
<text x="510.7" y="163" font-size="23.5" font-weight="bold" fill="#157a3e" textLength="122" lengthAdjust="spacingAndGlyphs">Plant Cell</text>
<text x="111" y="334" font-size="24.5" font-weight="bold" fill="#1a7a3e" textLength="54" lengthAdjust="spacingAndGlyphs">Leaf</text>


<!-- green chloroplast arrow -->
<path d="M378 149 L383 142 L388 142 L388 396 L381 396 L381 152 Z" fill="#5a9a1c"/>
<path d="M371 395 L398 395 L384.5 415 Z" fill="#5a9a1c"/>
<rect x="351" y="328" width="97" height="22.4" rx="4" fill="#1b7f3c"/>
<text x="352.3" y="344.6" font-size="15.5" font-weight="bold" fill="#d4f7d0" textLength="95" lengthAdjust="spacingAndGlyphs">Chloroplast</text>
<rect x="368.3" y="360.8" width="125.2" height="22" rx="4" fill="#636366"/>
<text x="369.4" y="377.3" font-size="14.6" font-weight="bold" fill="#fff" textLength="123" lengthAdjust="spacingAndGlyphs">Carbon dioxide</text>

<!-- Water label -->
<rect x="184" y="350.7" width="78.4" height="33" rx="6" fill="#5b9be6"/>
<text x="188.5" y="376" font-size="23" font-weight="bold" fill="#fff" textLength="70" lengthAdjust="spacingAndGlyphs">Water</text>
<!-- H2O molecule -->
<circle cx="213" cy="415" r="8" fill="url(#gBlue)"/>
<circle cx="236" cy="415" r="8" fill="url(#gBlue)"/>
<circle cx="224.4" cy="405" r="11.3" fill="url(#gRed)"/>
<text x="248.6" y="416.2" font-size="22" fill="#5b8fd0" stroke="#fff" stroke-width="0.55">H</text>
<text x="264.8" y="421.5" font-size="12.5" fill="#5b8fd0">2</text>
<text x="272.3" y="416.2" font-size="22" fill="#5b8fd0" stroke="#fff" stroke-width="0.55">O</text>
<!-- CO2 molecule -->
<circle cx="408.2" cy="414.2" r="8.3" fill="url(#gRed)"/>
<circle cx="430.4" cy="414.2" r="8.3" fill="url(#gRed)"/>
<circle cx="418.6" cy="405" r="11" fill="url(#gBlack)"/>
<text x="441" y="415" font-size="21.5" fill="#6b6b6b" stroke="#fff" stroke-width="0.5" textLength="36" lengthAdjust="spacingAndGlyphs">CO</text>
<text x="478" y="419.5" font-size="12.5" fill="#6b6b6b">2</text>

<!-- SUN -->
<g id="sun">
<path d="M99.1 371.1 Q102.2 363.1 105.0 350.5 Q107.8 363.1 110.9 371.1 L113.8 371.9 Q120.5 366.5 129.2 357.0 Q125.4 369.3 124.1 377.8 L126.2 379.9 Q134.7 378.6 147.0 374.8 Q137.5 383.5 132.1 390.2 L132.9 393.1 Q140.9 396.2 153.5 399.0 Q140.9 401.8 132.9 404.9 L132.1 407.8 Q137.5 414.5 147.0 423.2 Q134.7 419.4 126.2 418.1 L124.1 420.2 Q125.4 428.7 129.2 441.0 Q120.5 431.5 113.8 426.1 L110.9 426.9 Q107.8 434.9 105.0 447.5 Q102.2 434.9 99.1 426.9 L96.2 426.1 Q89.5 431.5 80.8 441.0 Q84.6 428.7 85.9 420.2 L83.8 418.1 Q75.3 419.4 63.0 423.2 Q72.5 414.5 77.9 407.8 L77.1 404.9 Q69.1 401.8 56.5 399.0 Q69.1 396.2 77.1 393.1 L77.9 390.2 Q72.5 383.5 63.0 374.8 Q75.3 378.6 83.8 379.9 L85.9 377.8 Q84.6 369.3 80.7 357.0 Q89.5 366.5 96.2 371.9 Z" fill="#f7931e" stroke="#f39019" stroke-width="1" stroke-linejoin="round"/>
<circle cx="105" cy="399" r="28.5" fill="#f6a01c"/>
<circle cx="105" cy="399" r="26" fill="#f9c214"/>
<circle cx="106.5" cy="397" r="22" fill="#ffd31a"/>
</g>
<text x="84" y="461.8" font-size="19" font-weight="bold" fill="#f0a030" textLength="49.3" lengthAdjust="spacingAndGlyphs">Light</text>

<!-- CHLOROPLAST -->
<g id="chloro">
<!-- outer membrane -->
<path d="M75 645 A254 209.5 0 0 1 583 645 L583 662 Q583 681 564 681 L94 681 Q75 681 75 662 Z" fill="#fafcc8" stroke="#2b8a3e" stroke-width="2.5"/>
<!-- inner membrane -->
<path d="M112.8 641 A211.4 177.5 0 0 1 535.6 641 L535.6 647 Q535.6 656.3 526.3 656.3 L122 656.3 Q112.8 656.3 112.8 647 Z" fill="#fefa98" stroke="#1d7c32" stroke-width="3.4"/>
</g>
<g id="stacks">
<ellipse cx="169" cy="612.5" rx="24.6" ry="17" fill="#8dc94b" stroke="#72b236" stroke-width="1.2"/>
<ellipse cx="171" cy="616.1" rx="21" ry="10.2" fill="#b0e268"/>
<ellipse cx="169" cy="604.6" rx="24.6" ry="17" fill="#8dc94b" stroke="#72b236" stroke-width="1.2"/>
<ellipse cx="171" cy="608.2" rx="21" ry="10.2" fill="#b0e268"/>
<ellipse cx="169" cy="596.7" rx="24.6" ry="17" fill="#8dc94b" stroke="#72b236" stroke-width="1.2"/>
<ellipse cx="171" cy="600.3" rx="21" ry="10.2" fill="#b0e268"/>
<ellipse cx="169" cy="588.8" rx="24.6" ry="17" fill="#8dc94b" stroke="#72b236" stroke-width="1.2"/>
<ellipse cx="171" cy="592.4" rx="21" ry="10.2" fill="#b0e268"/>
<ellipse cx="169" cy="580.9" rx="24.6" ry="17" fill="#8dc94b" stroke="#72b236" stroke-width="1.2"/>
<ellipse cx="171" cy="584.5" rx="21" ry="10.2" fill="#b0e268"/>
<ellipse cx="169" cy="573.0" rx="24.6" ry="17" fill="#8dc94b" stroke="#72b236" stroke-width="1.2"/>
<ellipse cx="171" cy="575.0" rx="19.5" ry="11.2" fill="#5a9a2c"/>
<ellipse cx="171" cy="576.0" rx="19" ry="10.2" fill="#b4e96c"/>
<ellipse cx="223" cy="618.6" rx="28.5" ry="18" fill="#8dc94b" stroke="#72b236" stroke-width="1.2"/>
<ellipse cx="223" cy="620.9" rx="24" ry="12.5" fill="#b0e268"/>
<ellipse cx="223" cy="610.2" rx="28.5" ry="18" fill="#8dc94b" stroke="#72b236" stroke-width="1.2"/>
<ellipse cx="223" cy="612.5" rx="24" ry="12.5" fill="#b0e268"/>
<ellipse cx="223" cy="601.8" rx="28.5" ry="18" fill="#8dc94b" stroke="#72b236" stroke-width="1.2"/>
<ellipse cx="223" cy="604.1" rx="24" ry="12.5" fill="#b0e268"/>
<ellipse cx="223" cy="593.4" rx="28.5" ry="18" fill="#8dc94b" stroke="#72b236" stroke-width="1.2"/>
<ellipse cx="223" cy="595.7" rx="24" ry="12.5" fill="#b0e268"/>
<ellipse cx="223" cy="585.0" rx="28.5" ry="18" fill="#8dc94b" stroke="#72b236" stroke-width="1.2"/>
<ellipse cx="223" cy="587.3" rx="24" ry="12.5" fill="#b0e268"/>
<ellipse cx="223" cy="576.6" rx="28.5" ry="18" fill="#8dc94b" stroke="#72b236" stroke-width="1.2"/>
<ellipse cx="223" cy="578.9" rx="24" ry="12.5" fill="#b0e268"/>
<ellipse cx="223" cy="568.2" rx="28.5" ry="18" fill="#8dc94b" stroke="#72b236" stroke-width="1.2"/>
<ellipse cx="223" cy="570.5" rx="24" ry="12.5" fill="#b0e268"/>
<ellipse cx="223" cy="559.8" rx="28.5" ry="18" fill="#8dc94b" stroke="#72b236" stroke-width="1.2"/>
<ellipse cx="223" cy="562.1" rx="24" ry="12.5" fill="#b0e268"/>
<ellipse cx="223" cy="551.4" rx="28.5" ry="18" fill="#8dc94b" stroke="#72b236" stroke-width="1.2"/>
<ellipse cx="223" cy="553.7" rx="24" ry="12.5" fill="#b0e268"/>
<ellipse cx="223" cy="543.0" rx="28.5" ry="18" fill="#8dc94b" stroke="#72b236" stroke-width="1.2"/>
<ellipse cx="223" cy="543.7" rx="22.5" ry="13.5" fill="#5a9a2c"/>
<ellipse cx="223" cy="544.7" rx="22" ry="12.5" fill="#b4e96c"/>
</g>

<!-- light rays -->
<g fill="none" stroke-linecap="round" stroke-linejoin="round">
<g stroke="#e6ae45" stroke-width="2.6">
<path d="M111.4 476.5 C112.0 478.4 114.3 484.0 115.2 487.9 C116.1 491.8 115.4 496.2 116.7 500.0 C118.0 503.8 120.7 507.6 122.8 510.6 C124.9 513.6 128.2 515.8 129.6 518.3 C131.0 520.8 131.0 523.0 131.1 525.8 C131.2 528.6 129.9 531.9 130.3 534.9 C130.7 537.9 131.8 541.6 133.4 544.0 C135.0 546.4 138.9 548.6 140.0 549.5"/>
<path d="M128.8 468.2 C129.4 470.0 131.4 474.8 132.6 478.8 C133.8 482.9 134.9 488.2 135.7 492.5 C136.5 496.8 136.1 501.1 137.2 504.6 C138.3 508.1 140.1 510.9 142.5 513.7 C144.9 516.5 149.6 518.8 151.6 521.3 C153.6 523.8 154.0 525.6 154.6 528.9 C155.2 532.2 155.1 536.7 155.4 541.0 C155.7 545.3 155.3 551.4 156.2 554.7 C157.1 558.0 158.5 558.9 160.7 560.8 C162.9 562.7 168.0 565.1 169.5 566.0"/>
<path d="M141.7 456.8 C142.1 458.7 143.1 464.3 144.0 468.2 C144.9 472.1 145.5 476.8 147.0 480.3 C148.5 483.8 151.2 486.9 153.1 489.4 C155.0 491.9 157.1 493.0 158.4 495.5 C159.7 498.0 160.3 501.6 160.7 504.6 C161.1 507.6 160.2 510.4 160.7 513.7 C161.2 517.0 162.1 521.7 163.7 524.3 C165.3 526.9 169.4 528.4 170.5 529.2"/>
</g>
<g stroke="#fbe07a" stroke-width="1">
<path d="M111.4 476.5 C112.0 478.4 114.3 484.0 115.2 487.9 C116.1 491.8 115.4 496.2 116.7 500.0 C118.0 503.8 120.7 507.6 122.8 510.6 C124.9 513.6 128.2 515.8 129.6 518.3 C131.0 520.8 131.0 523.0 131.1 525.8 C131.2 528.6 129.9 531.9 130.3 534.9 C130.7 537.9 131.8 541.6 133.4 544.0 C135.0 546.4 138.9 548.6 140.0 549.5"/>
<path d="M128.8 468.2 C129.4 470.0 131.4 474.8 132.6 478.8 C133.8 482.9 134.9 488.2 135.7 492.5 C136.5 496.8 136.1 501.1 137.2 504.6 C138.3 508.1 140.1 510.9 142.5 513.7 C144.9 516.5 149.6 518.8 151.6 521.3 C153.6 523.8 154.0 525.6 154.6 528.9 C155.2 532.2 155.1 536.7 155.4 541.0 C155.7 545.3 155.3 551.4 156.2 554.7 C157.1 558.0 158.5 558.9 160.7 560.8 C162.9 562.7 168.0 565.1 169.5 566.0"/>
<path d="M141.7 456.8 C142.1 458.7 143.1 464.3 144.0 468.2 C144.9 472.1 145.5 476.8 147.0 480.3 C148.5 483.8 151.2 486.9 153.1 489.4 C155.0 491.9 157.1 493.0 158.4 495.5 C159.7 498.0 160.3 501.6 160.7 504.6 C161.1 507.6 160.2 510.4 160.7 513.7 C161.2 517.0 162.1 521.7 163.7 524.3 C165.3 526.9 169.4 528.4 170.5 529.2"/>
</g>
</g>
<g fill="#f4b323">
<path d="M145.0 552.0 L135.8 551.3 L140.8 543.8 Z"/>
<path d="M175.0 568.5 L165.9 569.3 L169.6 561.1 Z"/>
<path d="M176.0 532.0 L166.8 532.4 L170.9 524.4 Z"/>
</g>

<!-- big arrows into chloroplast -->
<rect x="216.7" y="438.7" width="16.6" height="64" fill="#5b9be6"/>
<path d="M199 502 L249.7 502 L225.3 528.5 Z" fill="#5b9be6"/>
<rect x="433" y="438.7" width="15.8" height="64" fill="#666670"/>
<path d="M413 502 L466.5 502 L440.3 528 Z" fill="#666670"/>
<rect x="215.3" y="636" width="14.7" height="64" fill="#5b9be6"/>
<path d="M193 699 L247 699 L222.8 726 Z" fill="#5b9be6"/>
<rect x="433.3" y="633.3" width="15.7" height="64" fill="#f5a124"/>
<path d="M411.7 696.7 L466 696.7 L440 721.7 Z" fill="#f5a124"/>

<!-- NADP boxes -->
<rect x="296.2" y="491.2" width="57.5" height="22.5" rx="4" fill="#1e7a3c"/>
<text x="299" y="507.6" font-size="15" font-weight="bold" fill="#fff" textLength="52" lengthAdjust="spacingAndGlyphs">NADP+</text>
<rect x="305.5" y="520" width="37" height="22.5" rx="4" fill="#8dba55"/>
<text x="308.5" y="536.5" font-size="15" font-weight="bold" fill="#fff" textLength="31" lengthAdjust="spacingAndGlyphs">ADP</text>
<circle cx="325" cy="556.3" r="8.7" fill="#1e7a3c"/>
<text x="321.8" y="560" font-size="10" font-weight="bold" fill="#fff">P</text>
<circle cx="311.3" cy="556.3" r="1.3" fill="#1e7a3c"/>
<rect x="308" y="600" width="32" height="22" rx="4" fill="#8fe03a"/>
<text x="310.5" y="616.3" font-size="15" font-weight="bold" fill="#fff" textLength="27" lengthAdjust="spacingAndGlyphs">ATP</text>
<rect x="295.5" y="625.8" width="58.3" height="22.5" rx="4" fill="#e2222a"/>
<text x="298.5" y="642.3" font-size="15" font-weight="bold" fill="#fff" textLength="52.5" lengthAdjust="spacingAndGlyphs">NADPH</text>

<!-- thin cycle arrows -->
<g fill="none" stroke-width="1.4" stroke-linecap="round">
<path d="M295 503.5 C275 500 255 508 248 526" stroke="#2b8c45"/>
<path d="M400 530 C396 512 380 500 356 503.5" stroke="#2b8c45"/>
<path d="M304 530 C285 528 262 535 258 552" stroke="#9cc068"/>
<path d="M392 555 C390 540 375 530 348 532" stroke="#9cc068"/>
<path d="M256 590 C260 605 280 612 303 611" stroke="#2b8c45"/>
<path d="M345 611 C365 612 382 606 392 594" stroke="#2b8c45"/>
<path d="M252 622 C258 634 275 638 293 637.5" stroke="#2b8c45"/>
<path d="M358 637.5 C380 640 398 634 406 621" stroke="#2b8c45"/>
</g>
<g fill="#2b8c45">
<path d="M247 529 L244 521 L252 523 Z"/>
<path d="M354 503.5 L360 499 L360 508 Z"/>
<path d="M305 611 L299 607 L299 615 Z"/>
<path d="M393 592 L388 595 L395 598 Z"/>
<path d="M295 637.5 L289 633.5 L289 641.5 Z"/>
<path d="M407 619 L401 621 L407 625 Z"/>
</g>
<g fill="#9cc068">
<path d="M258 555 L254 547 L262 548 Z"/>
<path d="M346 532 L352 528 L352 536 Z"/>
</g>

<g id="calvin">
<circle cx="440.2" cy="578" r="47" fill="#c9ec9c" opacity="0.8"/>
<circle cx="440.2" cy="578" r="28" fill="#fdf9c0"/>
<path d="M397.6 591.0 A44.5 44.5 0 0 1 413.4 542.5 L410.4 538.5 L428.0 544.4 L427.0 560.4 L424.0 556.4 A27.0 27.0 0 0 0 414.4 585.9 L404.8 583.0 Z" fill="#1cb456"/>
<path d="M434.8 622.2 A44.5 44.5 0 0 1 399.9 596.8 L395.3 598.9 L404.8 583.0 L420.3 587.3 L415.7 589.4 A27.0 27.0 0 0 0 436.9 604.8 L430.3 612.4 Z" fill="#13924a"/>
<path d="M477.5 602.2 A44.5 44.5 0 0 1 441.0 622.5 L441.1 627.5 L430.3 612.4 L440.6 600.0 L440.7 605.0 A27.0 27.0 0 0 0 462.8 592.7 L466.8 601.9 Z" fill="#19b352"/>
<path d="M478.3 555.1 A44.5 44.5 0 0 1 480.5 596.8 L485.1 598.9 L466.8 601.9 L460.1 587.3 L464.7 589.4 A27.0 27.0 0 0 0 463.3 564.1 L473.3 564.6 Z" fill="#138c41"/>
<path d="M418.6 539.1 A44.5 44.5 0 0 1 474.8 550.0 L478.7 546.8 L473.3 564.6 L457.3 564.2 L461.2 561.0 A27.0 27.0 0 0 0 427.1 554.4 L428.0 544.4 Z" fill="#80d8a8"/>
<text x="419" y="576" font-size="12.3" fill="#4f8a30" stroke="#4f8a30" stroke-width="0.3" textLength="41" lengthAdjust="spacingAndGlyphs">Calvin</text>
<text x="420.8" y="587.3" font-size="12.3" fill="#4f8a30" stroke="#4f8a30" stroke-width="0.3" textLength="38" lengthAdjust="spacingAndGlyphs">Cycle</text>
</g>
<!-- O2 molecule -->
<circle cx="208.3" cy="744.4" r="11.5" fill="url(#gRed)"/>
<circle cx="232.8" cy="744.4" r="11.5" fill="url(#gRed)"/>
<!-- Oxygen label -->
<rect x="172" y="760" width="96" height="32.8" rx="6" fill="#5b9be6"/>
<text x="174.3" y="783.2" font-size="22" font-weight="bold" fill="#fff" textLength="91" lengthAdjust="spacingAndGlyphs">Oxygen</text>
<text x="194.8" y="825" font-size="28.5" fill="#5b9ad8" stroke="#fff" stroke-width="0.7">O</text>
<text x="219.6" y="835.3" font-size="27.5" fill="#5b9ad8" stroke="#fff" stroke-width="0.7">2</text>
<!-- sugar -->
<g fill="#eb9c5c" stroke="#fff" stroke-width="0.35" text-anchor="middle" font-size="24">
<text x="400.5" y="749.6">(</text><text x="413.5" y="749.6">C</text><text x="431" y="749.6">H</text><text x="460.3" y="749.6">O</text><text x="474.5" y="749.6">)</text>
<text x="445.6" y="756.4" font-size="15" stroke-width="0.3">2</text></g>
<text x="411.6" y="774.3" font-size="20" fill="#eb9c5c" stroke="#fff" stroke-width="0.3" textLength="57" lengthAdjust="spacingAndGlyphs">Sugar</text>

<!-- labels -->
<g font-size="12.5" fill="#2e2e2e" stroke="#2e2e2e" stroke-width="0.15">
<text x="9.3" y="550.7" textLength="60.7" lengthAdjust="spacingAndGlyphs">Thylakoid</text>
<text x="18.3" y="707.3" textLength="46.7" lengthAdjust="spacingAndGlyphs">Stroma</text>
<text x="105" y="716.7" textLength="40.7" lengthAdjust="spacingAndGlyphs">Grana</text>
<text x="57.3" y="736" textLength="137.7" lengthAdjust="spacingAndGlyphs">(Stack of thylakoids)</text>
<text x="628.6" y="621.6" textLength="37" lengthAdjust="spacingAndGlyphs">Outer</text>
<text x="610" y="639.5" textLength="76" lengthAdjust="spacingAndGlyphs">membrane</text>
<text x="627.5" y="682" textLength="33.5" lengthAdjust="spacingAndGlyphs">Inner</text>
<text x="606.5" y="700.6" textLength="75.5" lengthAdjust="spacingAndGlyphs">membrane</text>
<text x="498.3" y="750.7" textLength="107.7" lengthAdjust="spacingAndGlyphs">Intermembrane</text>
<text x="531.7" y="767.3" textLength="41.6" lengthAdjust="spacingAndGlyphs">space</text>
</g>
<g stroke="#444" stroke-width="1" fill="none">
<path d="M75 550.7 L160 576.7"/>
<path d="M68 703 L151.7 644"/>
<path d="M135 702.7 L220 620"/>
<path d="M617 619.7 L580 602.6"/>
<path d="M617 681 L536.7 635"/>
<path d="M496.7 671.7 L546.7 736.7"/>
</g>

<!-- Vedantu logo -->
<g id="logo" fill="none" stroke="#f26a21" stroke-width="7.6" transform="translate(0 1.5)" stroke-linecap="round" stroke-linejoin="round">
<path d="M465.5 788 L499.5 834.5" stroke-width="9"/>
<path d="M490 818 L506 815.5 L501 838 Z" fill="#f26a21" stroke-width="2"/>
<path d="M502 834 L513.8 776" stroke-width="7"/>
<path d="M501 835 C507 835 514 834.5 519 833.5 C522 833 524 829 525 823 C530 821 537 818 540 813 C543 808 541 802 535 802 C527 802 522 810 521.5 819 C521 829 525 835 533 835.5 C541 836 548 833 552 829"/>
<path d="M573.5 812 C571 805 566 803.5 562 804.5 C556 806.5 553.5 815 554 823 C554.5 831 558 835 563 835 C568.5 835 572 830 573.5 823 M573.5 779 L573.5 828 C573.5 833 576.5 835.5 582 834"/>
<path d="M607 812 C605 805 600 803.5 596 804.5 C590 806.5 587.5 815 588 823 C588.5 831 592 835 597 835 C602.5 835 606 830 607 823 M607 805 L607 828 C607 833 610 835.5 615.5 834"/>
<path d="M625 806 L625 835 M625 816 C626.5 808 630.5 803.5 636 803.5 C641.5 803.5 644 808 644 815 L644 828 C644 833 647 835.5 652.5 834"/>
<path d="M664 780 L664 828 C664 833 667 835.5 672.5 834 M651.5 795 L688 795"/>
<path d="M682.5 806 L682.5 826 C682.5 832 686.5 835.5 692.5 835.5 C699 835.5 703 830 703.3 822 M703.3 806 L703.3 828 C703.3 833 706.5 835.5 712 834 L721 829"/>
</g>

</svg>
</body></html>
